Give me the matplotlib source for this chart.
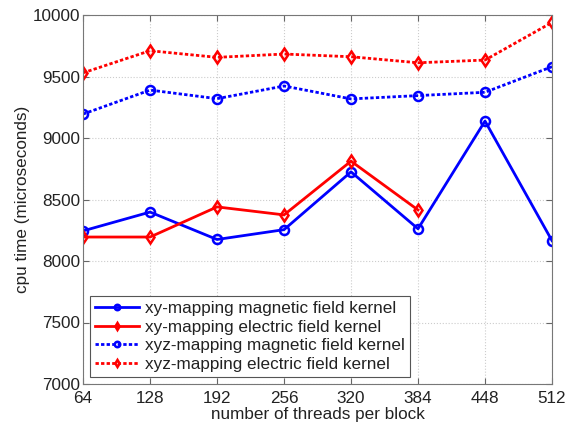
import matplotlib
matplotlib.use("Agg")
import matplotlib.pyplot as plt

plt.rcParams['font.family'] = ['Liberation Sans', 'DejaVu Sans']

threads = [64, 128, 192, 256, 320, 384, 448, 512]
xy_magnetic = [8245, 8398, 8175, 8255, 8725, 8262, 9138, 8165]
xy_electric = [8195, 8195, 8440, 8375, 8812, 8415]
xyz_magnetic = [9195, 9390, 9320, 9423, 9318, 9345, 9372, 9580]
xyz_electric = [9530, 9710, 9656, 9683, 9661, 9612, 9634, 9940]

labels = ['xy-mapping magnetic field kernel', 'xy-mapping electric field kernel',
          'xyz-mapping magnetic field kernel', 'xyz-mapping electric field kernel']

fs = 12.3
fig = plt.figure(figsize=(5.65, 4.3), dpi=100)
ax = fig.add_axes([0.147, 0.107, 0.83, 0.858])

ax.plot(threads, xy_magnetic, color='#0000ff', lw=2, marker='o', ms=6.5,
        mfc='none', mew=1.8, label=labels[0])
ax.plot(threads[:len(xy_electric)], xy_electric, color='#ff0000', lw=2, marker='d', ms=6,
        mfc='none', mew=1.8, label=labels[1])
ax.plot(threads, xyz_magnetic, color='#0000ff', lw=2, ls=(0, (1.2, 0.8)), marker='o', ms=6.5,
        mfc='none', mew=1.8, label=labels[2])
ax.plot(threads, xyz_electric, color='#ff0000', lw=2, ls=(0, (1.2, 0.8)), marker='d', ms=6,
        mfc='none', mew=1.8, label=labels[3])

ax.set_xlim(64, 512)
ax.set_ylim(7000, 10000)
ax.set_xticks(threads)
ax.set_yticks(range(7000, 10001, 500))
ax.tick_params(direction='in', top=True, right=True, labelsize=fs, length=4,
               color='#666666', labelcolor='#222222')
ax.tick_params(axis='y', pad=2)
ax.tick_params(axis='x', pad=5)
ax.grid(True, ls=':', color='#cccccc', lw=0.8)
for s in ax.spines.values():
    s.set_color('#777777')

ax.set_xlabel('number of threads per block', fontsize=fs, labelpad=1, color='#222222')
ax.set_ylabel('cpu time (microseconds)', fontsize=fs, labelpad=2, color='#222222')

leg = ax.legend(loc='lower left', fontsize=fs, fancybox=False, framealpha=1,
                edgecolor='#555555', handlelength=2.6, borderpad=0.3,
                labelspacing=0.22, handletextpad=0.3, markerscale=0.6,
                borderaxespad=0.4)
leg.get_frame().set_linewidth(0.8)
for t in leg.get_texts():
    t.set_color('#222222')

fig.savefig('out.png', dpi=100)
